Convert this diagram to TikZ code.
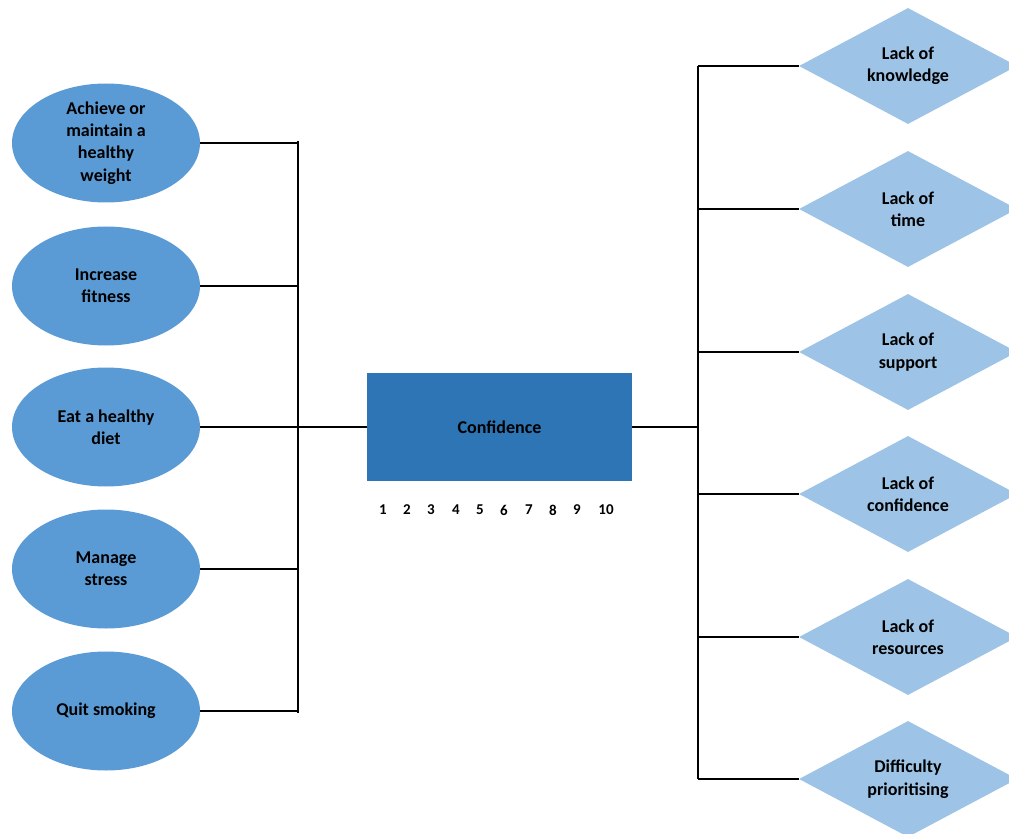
\documentclass[tikz,border=0pt]{standalone}
\usepackage{fontspec}
\setmainfont{Carlito}
\usepackage{tikz}
\usepackage{xcolor}
\usetikzlibrary{shapes.geometric, positioning, calc}

\definecolor{goalblue}{HTML}{5B9BD5}
\definecolor{confblue}{HTML}{2E75B6}
\definecolor{barrierblue}{HTML}{9DC3E6}

\tikzset{
  goal/.style={ellipse, fill=goalblue, minimum width=188pt, minimum height=119pt, inner sep=0pt, align=center, font=\fontsize{18}{22.4}\selectfont\bfseries},
  barrier/.style={diamond, fill=barrierblue, aspect=1.88, minimum width=218pt, minimum height=116pt, inner sep=0pt, align=center, font=\fontsize{18}{22.4}\selectfont\bfseries},
  confbox/.style={rectangle, fill=confblue, minimum width=265pt, minimum height=108pt, inner sep=0pt, font=\fontsize{18}{22.4}\selectfont\bfseries},
  digit/.style={inner sep=0pt, font=\fontsize{15}{18}\selectfont\bfseries},
  link/.style={line width=1.3pt, black}
}

\begin{document}
\begin{tikzpicture}[x=1pt, y=-1pt]
\useasboundingbox (0,0) rectangle (1009,834);
\clip (0,0) rectangle (1009,834);

% Goals (left)
\node[goal] (goal1) at (106,143) {Achieve or\\maintain a\\healthy\\weight};
\node[goal] (goal2) at (106,286) {Increase\\fitness};
\node[goal] (goal3) at (106,427) {Eat a healthy\\diet};
\node[goal] (goal4) at (106,569) {Manage\\stress};
\node[goal] (goal5) at (106,711) {Quit smoking};

% Confidence box and scale
\node[confbox] (conf) at (499.5,427) {Confidence};
\foreach \x/\n in {383/1, 407/2, 431/3, 456/4, 480/5, 504/6, 529/7, 553/8, 577/9, 606/10}
  \node[digit] (n\n) at (\x,510) {\n};

% Barriers (right)
\node[barrier] (barrier1) at (908,66) {Lack of\\knowledge};
\node[barrier] (barrier2) at (908,209) {Lack of\\time};
\node[barrier] (barrier3) at (908,352) {Lack of\\support};
\node[barrier] (barrier4) at (908,494) {Lack of\\confidence};
\node[barrier] (barrier5) at (908,637) {Lack of\\resources};
\node[barrier] (barrier6) at (908,779) {Difficulty\\prioritising};

% Left bus
\coordinate (ltop) at (298,141);
\coordinate (lbot) at (298,713);
\draw[link] (ltop) -- (lbot);
\draw[link] (goal1.east) -- (goal1.east -| ltop);
\draw[link] (goal2.east) -- (goal2.east -| ltop);
\draw[link] (goal3.east) -- (goal3.east -| ltop);
\draw[link] (goal4.east) -- (goal4.east -| ltop);
\draw[link] (goal5.east) -- (goal5.east -| ltop);
\draw[link] (conf.west) -- (conf.west -| ltop);

% Right bus
\coordinate (rtop) at (698,66);
\coordinate (rbot) at (698,779);
\draw[link] (rtop) -- (rbot);
\draw[link] (conf.east) -- (conf.east -| rtop);
\draw[link] (barrier1.west) -- (barrier1.west -| rtop);
\draw[link] (barrier2.west) -- (barrier2.west -| rtop);
\draw[link] (barrier3.west) -- (barrier3.west -| rtop);
\draw[link] (barrier4.west) -- (barrier4.west -| rtop);
\draw[link] (barrier5.west) -- (barrier5.west -| rtop);
\draw[link] (barrier6.west) -- (barrier6.west -| rtop);
\end{tikzpicture}
\end{document}
